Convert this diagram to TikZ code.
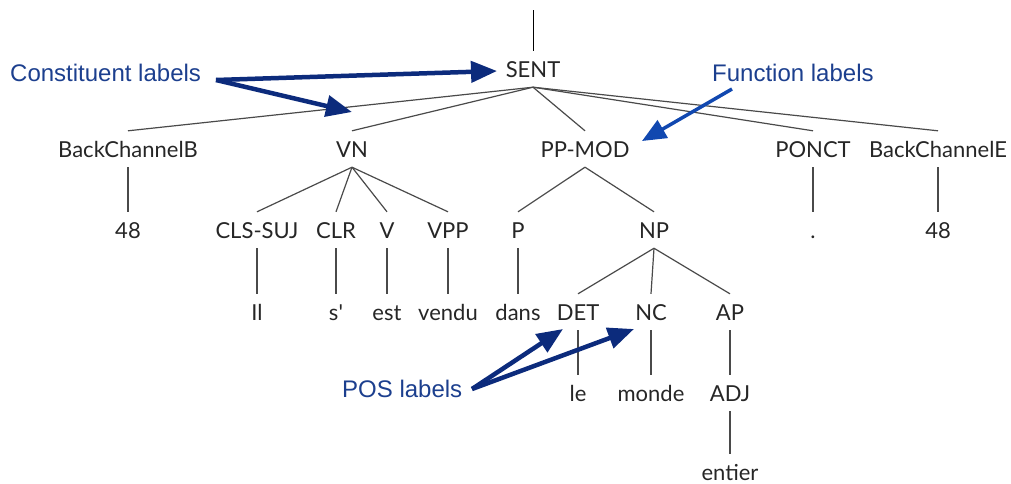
\documentclass[tikz,border=0pt]{standalone}
\usepackage{fontspec}
\setmainfont{Lato}
\newfontfamily\labelfont{Liberation Sans}
\usetikzlibrary{arrows.meta}
\definecolor{navy}{HTML}{0C2B7C}
\definecolor{lblue}{HTML}{1148B0}
\definecolor{ltext}{HTML}{1C3F8E}
\definecolor{edgegray}{HTML}{4A4A4A}
\tikzset{
  tn/.style={anchor=base, inner sep=0pt, text height=26pt, text depth=10pt,
    font=\fontsize{22}{26}\selectfont, text=black!85},
  edge/.style={draw=edgegray, line width=1.2pt},
  ann/.style={anchor=base west, inner sep=0pt, font=\labelfont\fontsize{24}{28}\selectfont, text=ltext},
  bigarrow/.style={draw=navy, line width=4.5pt, -{Triangle[length=26pt,width=21pt]}},
  thinarrow/.style={draw=lblue, line width=3.5pt, -{Triangle[length=24pt,width=20pt]}}
}
\begin{document}
\begin{tikzpicture}[x=1pt,y=-1pt]
\useasboundingbox (0,0) rectangle (1011,483);
% level 0
\coordinate (top) at (533,10);
\node[tn] (sent) at (533,77) {SENT};
% level 1
\node[tn] (bcb) at (128,157) {BackChannelB};
\node[tn] (vn) at (352,157) {VN};
\node[tn] (ppmod) at (585,157) {PP-MOD};
\node[tn] (ponct) at (813,157) {PONCT};
\node[tn] (bce) at (938,157) {BackChannelE};
% level 2
\node[tn] (n48a) at (128,238) {48};
\node[tn] (clssuj) at (257,238) {CLS-SUJ};
\node[tn] (clr) at (336,238) {CLR};
\node[tn] (v) at (387,238) {V};
\node[tn] (vpp) at (448,238) {VPP};
\node[tn] (p) at (518,238) {P};
\node[tn] (np) at (654,238) {NP};
\node[tn] (dot) at (813,238) {.};
\node[tn] (n48b) at (938,238) {48};
% level 3
\node[tn] (il) at (257,320) {Il};
\node[tn] (s) at (336,320) {s\textquotesingle};
\node[tn] (est) at (387,320) {est};
\node[tn] (vendu) at (448,320) {vendu};
\node[tn] (dans) at (518,320) {dans};
\node[tn] (det) at (578,320) {DET};
\node[tn] (nc) at (651,320) {NC};
\node[tn] (ap) at (730,320) {AP};
% level 4
\node[tn] (le) at (578,401) {le};
\node[tn] (monde) at (651,401) {monde};
\node[tn] (adj) at (730,401) {ADJ};
% level 5
\node[tn, text depth=0pt] (entier) at (730,480) {entier};

% edges
\draw[line width=1pt, black] (top) -- (sent.north);
\foreach \c in {bcb,vn,ppmod,ponct,bce} \draw[edge] (sent.south) -- (\c.north);
\draw[edge] (bcb.south) -- (n48a.north);
\foreach \c in {clssuj,clr,v,vpp} \draw[edge] (vn.south) -- (\c.north);
\draw[edge] (ppmod.south) -- (p.north);
\draw[edge] (ppmod.south) -- (np.north);
\draw[edge] (ponct.south) -- (dot.north);
\draw[edge] (bce.south) -- (n48b.north);
\draw[edge] (clssuj.south) -- (il.north);
\draw[edge] (clr.south) -- (s.north);
\draw[edge] (v.south) -- (est.north);
\draw[edge] (vpp.south) -- (vendu.north);
\draw[edge] (p.south) -- (dans.north);
\foreach \c in {det,nc,ap} \draw[edge] (np.south) -- (\c.north);
\draw[edge] (det.south) -- (le.north);
\draw[edge] (nc.south) -- (monde.north);
\draw[edge] (ap.south) -- (adj.north);
\draw[edge] (adj.south) -- (entier.north);

% annotations
\node[ann] (constit) at (10,81) {Constituent labels};
\node[ann] (func) at (712,81) {Function labels};
\node[ann] (pos) at (342,397) {POS labels};

\coordinate (ctail) at (216,80);
\coordinate (csent) at (497,71);
\coordinate (cvn) at (352,112);
\coordinate (ftail) at (732,89);
\coordinate (fpp) at (642,141);
\coordinate (ptail) at (472,389);
\coordinate (pdet) at (563,329);
\coordinate (pnc) at (634,329);

\draw[bigarrow] (ctail) -- (csent);
\draw[bigarrow] (ctail) -- (cvn);
\draw[thinarrow] (ftail) -- (fpp);
\draw[bigarrow] (ptail) -- (pdet);
\draw[bigarrow] (ptail) -- (pnc);
\end{tikzpicture}
\end{document}
